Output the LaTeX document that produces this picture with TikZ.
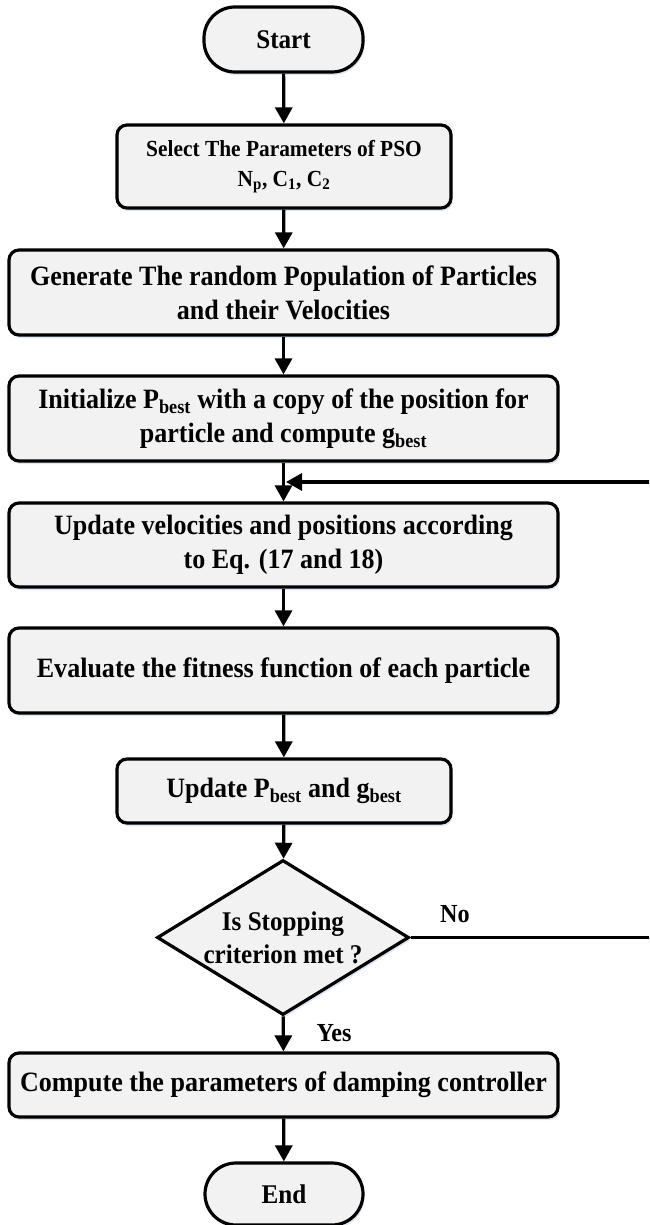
\documentclass[tikz,border=0pt]{standalone}
\usepackage{fontspec}
\setmainfont{Liberation Serif}[FakeStretch=0.93]
\usetikzlibrary{arrows.meta,shapes.geometric,shadows}
\definecolor{boxfill}{HTML}{F2F2F2}
\definecolor{shade}{HTML}{C9D6EA}
\tikzset{
  shd/.style={drop shadow={shadow xshift=1.5pt,shadow yshift=-3pt,fill=shade,opacity=0.6}},
  box/.style={draw, line width=3.2pt, rounded corners=10pt, fill=boxfill, align=center,
    inner sep=0pt, shd, font=\bfseries\fontsize{28}{34}\selectfont},
  smallbox/.style={box, font=\bfseries\fontsize{23}{30}\selectfont},
  term/.style={box, rounded corners=31pt, font=\bfseries\fontsize{27}{34}\selectfont},
  decision/.style={diamond, aspect=1.63, draw, line width=3.2pt, fill=boxfill, align=center, inner sep=0pt,
    shd, font=\bfseries\fontsize{27}{33}\selectfont},
  arr/.style={line width=3.2pt, -{Triangle[length=16pt,width=17pt]}},
  lbl/.style={font=\bfseries\fontsize{26}{30}\selectfont, inner sep=0pt},
}
\begin{document}
\begin{tikzpicture}[x=1pt,y=-1pt]
\clip (0,0) rectangle (649,1225);
\fill[white] (0,0) rectangle (649,1225);
\node[term, minimum width=159pt, minimum height=65pt] (start) at (283.5,39.5) {Start};
\node[smallbox, minimum width=334pt, minimum height=83pt] (sel) at (284,166.5)
  {Select The Parameters of PSO\\N\textsubscript{p}, C\textsubscript{1}, C\textsubscript{2}};
\node[box, minimum width=549pt, minimum height=85pt] (gen) at (283.5,292.5)
  {Generate The random Population of Particles\\and their Velocities};
\node[box, minimum width=549pt, minimum height=85pt] (init) at (283.5,418.5)
  {Initialize P\textsubscript{best} with a copy of the position for\\particle and compute g\textsubscript{best}};
\node[box, minimum width=549pt, minimum height=84pt] (upd) at (283.5,545)
  {Update velocities and positions according\\to Eq. (17 and 18)};
\node[box, minimum width=549pt, minimum height=85pt] (eval) at (283.5,670.5)
  {Evaluate the fitness function of each particle};
\node[box, minimum width=334pt, minimum height=64pt] (pb) at (284,791)
  {Update P\textsubscript{best} and g\textsubscript{best}};
\node[decision, minimum width=252pt, minimum height=155pt] (dec) at (283,937.5)
  {Is Stopping\\criterion met ?};
\node[box, minimum width=549pt, minimum height=64pt] (comp) at (283.5,1085)
  {Compute the parameters of damping controller};
\node[term, minimum width=158pt, minimum height=62pt] (end) at (284,1194) {End};
\coordinate (r1) at (700,937.5);
\coordinate (r2) at (700,482);
\coordinate (j) at (286,482);
\draw[arr] (start) -- (sel);
\draw[arr] (sel) -- (gen);
\draw[arr] (gen) -- (init);
\draw[arr] (init) -- (upd);
\draw[arr] (upd) -- (eval);
\draw[arr] (eval) -- (pb);
\draw[arr] (pb) -- (dec);
\draw[arr] (dec) -- (comp);
\draw[arr] (comp) -- (end);
\draw[arr] (dec.east) -- (r1) -- (r2) -- (j);
\node[lbl] (no) at (455,914) {No};
\node[lbl] (yes) at (334,1033) {Yes};
\end{tikzpicture}
\end{document}
